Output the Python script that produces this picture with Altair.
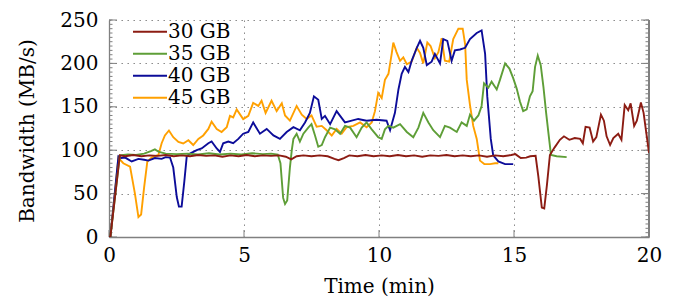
import altair as alt
import pandas as pd

series_names = ["30 GB", "35 GB", "40 GB", "45 GB"]
series_colors = ["#8c1c13", "#5e9e37", "#0c0c99", "#ffa000"]

t30 = [0, 0.05, 0.4, 0.6, 0.9, 1.2, 1.5, 1.8, 2.1, 2.4, 2.7, 3.0, 3.3, 3.6, 3.9, 4.2, 4.5, 4.8, 5.1, 5.4,
       5.7, 6.0, 6.3, 6.55, 6.75, 6.95, 7.2, 7.5, 7.8, 8.1, 8.35, 8.5, 8.7, 8.9, 9.2, 9.5, 9.8, 10.1, 10.4,
       10.7, 11.0, 11.3, 11.6, 11.9, 12.2, 12.5, 12.8, 13.1, 13.4, 13.7, 14.0, 14.3, 14.6, 14.9, 15.05,
       15.25, 15.45, 15.6, 15.8, 15.9, 16.03, 16.12, 16.22, 16.33, 16.5, 16.7, 16.85, 17.05, 17.25, 17.45,
       17.55, 17.65, 17.8, 17.93, 18.05, 18.22, 18.33, 18.43, 18.56, 18.68, 18.86, 18.98, 19.1, 19.23,
       19.32, 19.45, 19.55, 19.7, 19.8, 19.9, 20.0]
v30 = [0, 0, 94, 93, 94.5, 93, 94, 93.5, 94.5, 93, 94, 93, 94.5, 93.5, 94, 92.5, 94, 93, 94.5, 93,
       94, 93.5, 94, 92.5, 89.5, 93, 94, 93, 94, 93, 90, 88.5, 91, 94, 93, 94.5, 93, 94, 93,
       94.5, 93, 94, 92.5, 94, 93.5, 94.5, 93, 94, 93, 94, 92.5, 94, 93, 94.5, 95.5,
       91, 91.5, 93, 93.5, 70, 34, 33, 60, 94.5, 103, 112, 116, 112, 114, 113,
       108, 127, 126, 110, 115, 141, 134, 116, 106, 114, 119, 112, 152, 146,
       154, 128, 134, 155, 143, 120, 97]

t35 = [0, 0.05, 0.4, 0.7, 1.0, 1.3, 1.55, 1.7, 1.85, 2.1, 2.5, 2.9, 3.3, 3.7, 4.1, 4.5, 4.9, 5.3, 5.7,
       6.0, 6.25, 6.35, 6.45, 6.52, 6.6, 6.7, 6.77, 6.83, 6.95, 7.07, 7.2, 7.38, 7.5, 7.63, 7.75, 7.88,
       8.0, 8.19, 8.37, 8.56, 8.74, 8.93, 9.17, 9.36, 9.54, 9.73, 9.97, 10.1, 10.22, 10.35, 10.53, 10.78,
       11.03, 11.27, 11.46, 11.64, 11.83, 12.01, 12.26, 12.44, 12.63, 12.88, 13.06, 13.25, 13.37, 13.52,
       13.68, 13.8, 13.89, 14.05, 14.17, 14.36, 14.48, 14.67, 14.83, 14.97, 15.1, 15.22, 15.34, 15.47,
       15.59, 15.69, 15.78, 15.88, 15.99, 16.09, 16.19, 16.27, 16.37, 16.58, 16.95]
v35 = [0, 0, 94, 95, 94.5, 96, 99, 101, 98, 96, 95.5, 96, 95, 96.5, 95, 96, 95, 96.5, 95.5,
       96, 95, 85, 45, 38, 42, 80, 100, 113, 119, 110, 119, 126, 130, 117, 104, 106,
       115, 126, 124, 119, 128, 126, 115, 126, 132, 124, 115, 113, 124, 128, 126, 130,
       121, 115, 126, 143, 132, 123, 115, 128, 126, 121, 132, 128, 141, 134,
       140, 151, 177, 172, 179, 170, 181, 200, 194, 183, 171, 156, 145, 147,
       162, 168, 196, 209, 198, 173, 143, 121, 94.5, 93, 92]

t40 = [0, 0.05, 0.35, 0.45, 0.6, 0.84, 1.09, 1.3, 1.46, 1.7, 1.95, 2.1, 2.26, 2.38, 2.51, 2.59, 2.69,
       2.79, 2.88, 3.0, 3.25, 3.43, 3.68, 3.8, 3.99, 4.11, 4.23, 4.42, 4.6, 4.79, 4.97, 5.16, 5.34, 5.59,
       5.84, 6.09, 6.33, 6.58, 6.83, 7.07, 7.26, 7.44, 7.59, 7.75, 7.88, 8.0, 8.19, 8.43, 8.56, 8.74,
       8.99, 9.23, 9.54, 9.91, 10.28, 10.41, 10.59, 10.72, 10.84, 10.96, 11.09, 11.21, 11.4, 11.52,
       11.64, 11.77, 11.95, 12.07, 12.26, 12.38, 12.53, 12.69, 12.81, 13.0, 13.19, 13.37, 13.62, 13.8,
       13.93, 14.01, 14.14, 14.23, 14.42, 14.67, 14.97]
v40 = [0, 0, 93, 91, 91.5, 87, 90, 89, 88, 91, 90, 92, 91.5, 80, 46, 35, 35,
       64, 93, 96, 100, 102, 108, 110, 102, 98, 108, 110, 108, 113, 119, 121, 132, 119,
       124.5, 117, 113, 121, 126.5, 123, 132, 143, 162, 158, 136, 139.5, 130, 145, 139.5, 132,
       134, 136, 134, 135, 134, 123, 143, 170, 188, 196, 190, 203, 218, 226,
       218, 198, 202, 211, 200, 228, 226, 203, 215, 216, 218, 228, 235, 238,
       211, 162, 113, 94, 87, 84, 84]

t45 = [0, 0.05, 0.35, 0.53, 0.78, 0.96, 1.09, 1.19, 1.3, 1.42, 1.58, 1.83, 1.95, 2.07, 2.22, 2.38, 2.57,
       2.75, 2.94, 3.12, 3.31, 3.49, 3.68, 3.8, 3.99, 4.17, 4.36, 4.48, 4.6, 4.73, 4.97, 5.16, 5.34, 5.53,
       5.65, 5.8, 6.02, 6.21, 6.4, 6.52, 6.7, 6.95, 7.14, 7.32, 7.5, 7.69, 7.88, 8.06, 8.25, 8.43, 8.62,
       8.8, 9.05, 9.3, 9.54, 9.73, 9.85, 9.97, 10.1, 10.22, 10.35, 10.47, 10.53, 10.65, 10.78, 10.9,
       11.03, 11.21, 11.4, 11.52, 11.64, 11.79, 11.91, 12.07, 12.2, 12.32, 12.44, 12.6, 12.75, 12.94,
       13.1, 13.19, 13.25, 13.37, 13.49, 13.62, 13.74, 13.9, 14.11, 14.3, 14.42]
v45 = [0, 0, 91, 85, 81, 50, 23, 26, 57, 87, 91.5, 94.5, 108, 117, 122.7, 115, 109.6,
       107.7, 111.5, 106, 113, 117, 124.5, 132.8, 124.5, 121, 126.5, 139.5, 137.7, 147, 135.8, 139.5, 154.6, 151,
       157, 143, 157, 145, 154, 140, 134, 151, 141, 136, 140, 127, 128, 123, 117, 124.5, 119,
       126.5, 128, 132, 126.5, 132, 145, 166, 160, 181, 188, 211, 224, 213, 203, 207,
       199, 202, 218, 212, 200, 224, 220, 206, 213, 229, 203, 202, 228, 240,
       240, 222, 181, 152, 128, 113, 88, 84, 84, 85, 85]

y_major = [0, 50, 100, 150, 200, 250]
y_minor = list(range(0, 251, 5))
x_major = [0, 5, 10, 15, 20]

rows = []
for name, ts, vs in [("45 GB", t45, v45), ("40 GB", t40, v40), ("35 GB", t35, v35), ("30 GB", t30, v30)]:
    for t, v in zip(ts, vs):
        rows.append({"t": t, "b": v, "series": name})
df = pd.DataFrame(rows)

W, H = 540, 217
FONT = "DejaVu Serif"
GRAY = "#808080"
XT = "Time (min)"
YT = "Bandwidth (MB/s)"

xscale = alt.Scale(domain=[0, 20], nice=False, zero=False)
yscale = alt.Scale(domain=[0, 250], nice=False)

legend = alt.Legend(title=None, orient="none", legendX=23, legendY=1,
                    symbolType="stroke", symbolSize=1156, symbolStrokeWidth=2,
                    labelOffset=0, padding=0, rowPadding=0, clipHeight=21.4,
                    labelFont=FONT, labelFontSize=20, labelColor="black")

lines = alt.Chart(df).mark_line(strokeWidth=1.9, clip=True).encode(
    x=alt.X("t:Q", scale=xscale, title=XT,
            axis=alt.Axis(values=x_major, titleY=49, titleBaseline="middle")),
    y=alt.Y("b:Q", scale=yscale, title=YT,
            axis=alt.Axis(values=y_major, titleX=-82, titleY=H / 2 + 2, titleAngle=-90,
                          titleBaseline="middle", titleAlign="center")),
    color=alt.Color("series:N", scale=alt.Scale(domain=series_names, range=series_colors),
                    legend=legend),
)

ymaj_df = pd.DataFrame({"b": y_major})
ymin_df = pd.DataFrame({"b": y_minor})
xmaj_df = pd.DataFrame({"t": x_major})

yenc = alt.Y("b:Q", scale=yscale, title=YT)
xenc = alt.X("t:Q", scale=xscale, title=XT)

left_major = alt.Chart(ymaj_df).mark_rule(color=GRAY, strokeWidth=1).encode(
    y=yenc, x=alt.value(0), x2=alt.value(8))
left_minor = alt.Chart(ymin_df).mark_rule(color=GRAY, strokeWidth=1).encode(
    y=yenc, x=alt.value(0), x2=alt.value(3.5))
right_major = alt.Chart(ymaj_df).mark_rule(color=GRAY, strokeWidth=1).encode(
    y=yenc, x=alt.value(W), x2=alt.value(W - 8))
right_minor = alt.Chart(ymin_df).mark_rule(color=GRAY, strokeWidth=1).encode(
    y=yenc, x=alt.value(W), x2=alt.value(W - 3.5))
bottom_major = alt.Chart(xmaj_df).mark_rule(color=GRAY, strokeWidth=1).encode(
    x=xenc, y=alt.value(H), y2=alt.value(H - 7))
right_line = alt.Chart(ymaj_df).mark_rule(color=GRAY, strokeWidth=1.3).encode(
    x=alt.value(W), y=alt.value(0), y2=alt.value(H))

chart = alt.layer(
    left_minor, left_major, right_minor, right_major, bottom_major, right_line, lines
).properties(
    width=W, height=H,
    autosize=alt.AutoSizeParams(type="none"),
    padding={"left": 101, "top": 12, "right": 26, "bottom": 60},
).configure_view(stroke=None).configure_axis(
    grid=True, gridColor=GRAY, gridDash=[1.4, 4.6], gridWidth=1,
    domain=True, domainColor=GRAY, domainWidth=1.3,
    ticks=False, labelFlush=False, labelOverlap=False, labelBound=False,
    labelFont=FONT, labelFontSize=20, labelColor="black",
    titleFont=FONT, titleFontSize=20, titleFontWeight="normal", titleColor="black",
).configure_axisX(labelPadding=8).configure_axisY(labelPadding=11)

chart.save("out.html", embed_options={"renderer": "svg", "actions": False})
